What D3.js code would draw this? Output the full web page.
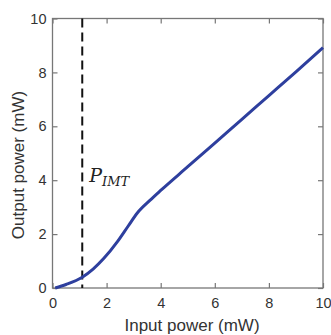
<!DOCTYPE html>
<html><head><meta charset="utf-8">
<script src="https://cdn.jsdelivr.net/npm/d3@7"></script>
<style>body{margin:0;background:#fff}svg{display:block}</style>
</head><body>
<svg id="c" width="331" height="335"></svg>
<script>
const inputPower = [0.1, 0.5, 1.1, 1.5, 1.9, 2.4, 2.8, 3.15, 3.6, 4.0, 5.0, 6.0, 7.0, 8.0, 9.0, 10.0];
const outputPower = [0.0, 0.13, 0.40, 0.70, 1.10, 1.72, 2.30, 2.80, 3.25, 3.62, 4.50, 5.38, 6.26, 7.14, 8.02, 8.92];
const pIMT = 1.1;
const xTicks = [0, 2, 4, 6, 8, 10];
const yTicks = [0, 2, 4, 6, 8, 10];

const svg = d3.select("#c");
const m = {l: 52.5, r: 323, t: 18.5, b: 288};
const x = d3.scaleLinear().domain([0, 10]).range([m.l, m.r]);
const y = d3.scaleLinear().domain([0, 10]).range([m.b, m.t]);
const axCol = "#777", txtCol = "#333";
const sans = "Arial, 'Liberation Sans', sans-serif";

function styleAxis(g){
  g.select(".domain").remove();
  g.selectAll(".tick line").attr("stroke", axCol).attr("stroke-width", 1.2);
  g.selectAll(".tick text").attr("fill", txtCol).style("font-family", sans).style("font-size", "14.5px");
}
svg.append("g").attr("transform", `translate(0,${m.b})`)
  .call(d3.axisBottom(x).tickValues(xTicks).tickSize(-5).tickPadding(10).tickFormat(d3.format("d"))).call(styleAxis);
svg.append("g").attr("transform", `translate(0,${m.t})`)
  .call(d3.axisTop(x).tickValues(xTicks).tickSize(-5).tickFormat("")).call(styleAxis);
svg.append("g").attr("transform", `translate(${m.l},0)`)
  .call(d3.axisLeft(y).tickValues(yTicks).tickSize(-5).tickPadding(6).tickFormat(d3.format("d"))).call(styleAxis);
svg.append("g").attr("transform", `translate(${m.r},0)`)
  .call(d3.axisRight(y).tickValues(yTicks).tickSize(-5).tickFormat("")).call(styleAxis);

svg.append("rect").attr("x", m.l).attr("y", m.t).attr("width", m.r - m.l).attr("height", m.b - m.t)
  .attr("fill", "none").attr("stroke", axCol).attr("stroke-width", 1.3);

svg.append("line").attr("x1", x(pIMT)).attr("x2", x(pIMT)).attr("y1", y(10)).attr("y2", y(0))
  .attr("stroke", "#111").attr("stroke-width", 2).attr("stroke-dasharray", "9,5");

const pts = inputPower.map((d, i) => [d, outputPower[i]]);
svg.append("path").datum(pts)
  .attr("d", d3.line().x(d => x(d[0])).y(d => y(d[1])).curve(d3.curveMonotoneX))
  .attr("fill", "none").attr("stroke", "#2e3f9e").attr("stroke-width", 3);

const lab = svg.append("text").attr("x", x(pIMT) + 7).attr("y", 182)
  .style("font-family", "'DejaVu Serif', 'Liberation Serif', serif").style("font-style", "italic").attr("fill", "#222");
lab.append("tspan").text("P").style("font-size", "19px");
lab.append("tspan").text("IMT").style("font-size", "13px").attr("dy", 4);

svg.append("text").attr("x", 192).attr("y", 331).attr("text-anchor", "middle")
  .attr("fill", txtCol).style("font-family", sans).style("font-size", "17px")
  .text("Input power (mW)");
svg.append("text").attr("transform", `translate(24,165) rotate(-90)`).attr("text-anchor", "middle")
  .attr("fill", txtCol).style("font-family", sans).style("font-size", "17px")
  .text("Output power (mW)");
</script>
</body></html>
